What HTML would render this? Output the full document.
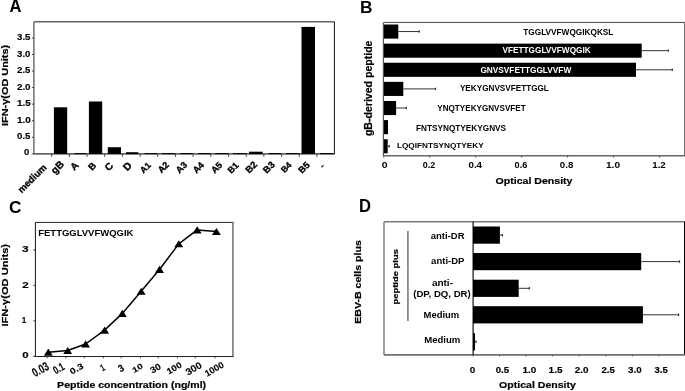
<!DOCTYPE html>
<html><head><meta charset="utf-8"><style>
html,body{margin:0;padding:0;background:#fff;width:685px;height:391px;overflow:hidden}
svg{display:block;will-change:transform}
text{font-family:'Liberation Sans', sans-serif;font-weight:bold}
</style></head><body>
<svg width="685" height="391" viewBox="0 0 685 391">
<rect width="685" height="391" fill="#fff"/>
<line x1="33.40" y1="153.90" x2="334.60" y2="153.90" stroke="#666" stroke-width="1.6"/>
<line x1="33.90" y1="21.80" x2="33.90" y2="153.90" stroke="#777" stroke-width="1.6"/>
<line x1="34.00" y1="21.80" x2="334.60" y2="21.80" stroke="#666" stroke-width="1.4"/>
<line x1="334.40" y1="21.80" x2="334.40" y2="153.90" stroke="#111" stroke-width="1"/>
<rect x="53.90" y="107.30" width="13.30" height="46.60" fill="#000"/>
<rect x="74.30" y="153.10" width="11.70" height="1.00" fill="#000"/>
<rect x="88.90" y="101.50" width="13.30" height="52.40" fill="#000"/>
<rect x="107.80" y="147.20" width="13.20" height="6.70" fill="#000"/>
<rect x="126.00" y="152.20" width="12.30" height="1.90" fill="#000"/>
<rect x="144.80" y="153.10" width="12.50" height="1.00" fill="#000"/>
<rect x="161.90" y="153.10" width="13.40" height="1.00" fill="#000"/>
<rect x="180.30" y="153.10" width="12.30" height="1.00" fill="#000"/>
<rect x="198.10" y="153.10" width="12.70" height="1.00" fill="#000"/>
<rect x="215.10" y="153.10" width="13.60" height="1.00" fill="#000"/>
<rect x="233.10" y="153.10" width="13.60" height="1.00" fill="#000"/>
<rect x="249.10" y="151.70" width="13.50" height="2.40" fill="#000"/>
<rect x="268.80" y="153.10" width="12.30" height="1.00" fill="#000"/>
<rect x="285.90" y="153.10" width="13.60" height="1.00" fill="#000"/>
<rect x="301.50" y="26.90" width="13.50" height="127.00" fill="#000"/>
<rect x="320.00" y="153.10" width="13.50" height="1.00" fill="#000"/>
<line x1="32.00" y1="153.80" x2="34.00" y2="153.80" stroke="#444" stroke-width="1"/>
<line x1="32.00" y1="137.25" x2="34.00" y2="137.25" stroke="#444" stroke-width="1"/>
<line x1="32.00" y1="120.70" x2="34.00" y2="120.70" stroke="#444" stroke-width="1"/>
<line x1="32.00" y1="104.15" x2="34.00" y2="104.15" stroke="#444" stroke-width="1"/>
<line x1="32.00" y1="87.60" x2="34.00" y2="87.60" stroke="#444" stroke-width="1"/>
<line x1="32.00" y1="71.05" x2="34.00" y2="71.05" stroke="#444" stroke-width="1"/>
<line x1="32.00" y1="54.50" x2="34.00" y2="54.50" stroke="#444" stroke-width="1"/>
<line x1="32.00" y1="37.95" x2="34.00" y2="37.95" stroke="#444" stroke-width="1"/>
<line x1="51.68" y1="153.80" x2="51.68" y2="156.80" stroke="#444" stroke-width="1"/>
<line x1="69.36" y1="153.80" x2="69.36" y2="156.80" stroke="#444" stroke-width="1"/>
<line x1="87.05" y1="153.80" x2="87.05" y2="156.80" stroke="#444" stroke-width="1"/>
<line x1="104.73" y1="153.80" x2="104.73" y2="156.80" stroke="#444" stroke-width="1"/>
<line x1="122.41" y1="153.80" x2="122.41" y2="156.80" stroke="#444" stroke-width="1"/>
<line x1="140.09" y1="153.80" x2="140.09" y2="156.80" stroke="#444" stroke-width="1"/>
<line x1="157.78" y1="153.80" x2="157.78" y2="156.80" stroke="#444" stroke-width="1"/>
<line x1="175.46" y1="153.80" x2="175.46" y2="156.80" stroke="#444" stroke-width="1"/>
<line x1="193.14" y1="153.80" x2="193.14" y2="156.80" stroke="#444" stroke-width="1"/>
<line x1="210.82" y1="153.80" x2="210.82" y2="156.80" stroke="#444" stroke-width="1"/>
<line x1="228.51" y1="153.80" x2="228.51" y2="156.80" stroke="#444" stroke-width="1"/>
<line x1="246.19" y1="153.80" x2="246.19" y2="156.80" stroke="#444" stroke-width="1"/>
<line x1="263.87" y1="153.80" x2="263.87" y2="156.80" stroke="#444" stroke-width="1"/>
<line x1="281.55" y1="153.80" x2="281.55" y2="156.80" stroke="#444" stroke-width="1"/>
<line x1="299.24" y1="153.80" x2="299.24" y2="156.80" stroke="#444" stroke-width="1"/>
<line x1="316.92" y1="153.80" x2="316.92" y2="156.80" stroke="#444" stroke-width="1"/>
<rect x="383.70" y="24.50" width="14.60" height="14.10" fill="#000"/>
<line x1="398.30" y1="31.55" x2="419.20" y2="31.55" stroke="#333" stroke-width="1"/>
<line x1="419.20" y1="30.35" x2="419.20" y2="32.75" stroke="#333" stroke-width="1.2"/>
<rect x="383.70" y="43.62" width="258.00" height="14.10" fill="#000"/>
<line x1="641.70" y1="50.67" x2="668.30" y2="50.67" stroke="#333" stroke-width="1"/>
<line x1="668.30" y1="49.47" x2="668.30" y2="51.87" stroke="#333" stroke-width="1.2"/>
<rect x="383.70" y="62.74" width="252.30" height="14.10" fill="#000"/>
<line x1="636.00" y1="69.79" x2="672.30" y2="69.79" stroke="#333" stroke-width="1"/>
<line x1="672.30" y1="68.59" x2="672.30" y2="70.99" stroke="#333" stroke-width="1.2"/>
<rect x="383.70" y="81.86" width="19.60" height="14.10" fill="#000"/>
<line x1="403.30" y1="88.91" x2="435.50" y2="88.91" stroke="#333" stroke-width="1"/>
<line x1="435.50" y1="87.71" x2="435.50" y2="90.11" stroke="#333" stroke-width="1.2"/>
<rect x="383.70" y="100.98" width="12.40" height="14.10" fill="#000"/>
<line x1="396.10" y1="108.03" x2="406.30" y2="108.03" stroke="#333" stroke-width="1"/>
<line x1="406.30" y1="106.83" x2="406.30" y2="109.23" stroke="#333" stroke-width="1.2"/>
<rect x="383.70" y="120.10" width="4.30" height="14.10" fill="#000"/>
<rect x="383.70" y="139.22" width="4.00" height="14.10" fill="#000"/>
<line x1="387.70" y1="146.27" x2="389.20" y2="146.27" stroke="#333" stroke-width="1"/>
<line x1="389.20" y1="145.07" x2="389.20" y2="147.47" stroke="#333" stroke-width="1.2"/>
<line x1="383.70" y1="22.40" x2="685.00" y2="22.40" stroke="#444" stroke-width="1"/>
<line x1="684.50" y1="22.40" x2="684.50" y2="155.80" stroke="#777" stroke-width="1"/>
<line x1="383.40" y1="22.40" x2="383.40" y2="155.80" stroke="#555" stroke-width="1.2"/>
<line x1="383.40" y1="155.80" x2="685.00" y2="155.80" stroke="#666" stroke-width="1.5"/>
<line x1="383.70" y1="155.60" x2="383.70" y2="157.60" stroke="#555" stroke-width="1"/>
<line x1="429.68" y1="155.60" x2="429.68" y2="157.60" stroke="#555" stroke-width="1"/>
<line x1="475.66" y1="155.60" x2="475.66" y2="157.60" stroke="#555" stroke-width="1"/>
<line x1="521.64" y1="155.60" x2="521.64" y2="157.60" stroke="#555" stroke-width="1"/>
<line x1="567.62" y1="155.60" x2="567.62" y2="157.60" stroke="#555" stroke-width="1"/>
<line x1="613.60" y1="155.60" x2="613.60" y2="157.60" stroke="#555" stroke-width="1"/>
<line x1="659.58" y1="155.60" x2="659.58" y2="157.60" stroke="#555" stroke-width="1"/>
<line x1="35.30" y1="222.40" x2="233.50" y2="222.40" stroke="#222" stroke-width="1"/>
<line x1="232.90" y1="222.40" x2="232.90" y2="356.50" stroke="#888" stroke-width="1.8"/>
<line x1="35.40" y1="222.40" x2="35.40" y2="356.50" stroke="#111" stroke-width="1"/>
<line x1="34.00" y1="356.50" x2="233.50" y2="356.50" stroke="#222" stroke-width="1"/>
<line x1="33.30" y1="356.30" x2="35.30" y2="356.30" stroke="#444" stroke-width="1"/>
<line x1="33.30" y1="320.87" x2="35.30" y2="320.87" stroke="#444" stroke-width="1"/>
<line x1="33.30" y1="285.44" x2="35.30" y2="285.44" stroke="#444" stroke-width="1"/>
<line x1="33.30" y1="250.01" x2="35.30" y2="250.01" stroke="#444" stroke-width="1"/>
<polyline points="48.30,352.20 67.70,350.55 85.60,344.00 104.60,330.15 122.30,313.40 141.20,291.25 159.50,269.45 178.80,243.85 197.20,229.95 216.40,231.50" fill="none" stroke="#000" stroke-width="1.5" stroke-linejoin="round"/>
<polygon points="48.30,348.60 52.75,355.70 43.85,355.70" fill="#000"/>
<polygon points="67.70,346.95 72.15,354.05 63.25,354.05" fill="#000"/>
<polygon points="85.60,340.40 90.05,347.50 81.15,347.50" fill="#000"/>
<polygon points="104.60,326.55 109.05,333.65 100.15,333.65" fill="#000"/>
<polygon points="122.30,309.80 126.75,316.90 117.85,316.90" fill="#000"/>
<polygon points="141.20,287.65 145.65,294.75 136.75,294.75" fill="#000"/>
<polygon points="159.50,265.85 163.95,272.95 155.05,272.95" fill="#000"/>
<polygon points="178.80,240.25 183.25,247.35 174.35,247.35" fill="#000"/>
<polygon points="197.20,226.35 201.65,233.45 192.75,233.45" fill="#000"/>
<polygon points="216.40,227.90 220.85,235.00 211.95,235.00" fill="#000"/>
<line x1="47.10" y1="356.30" x2="47.10" y2="358.30" stroke="#444" stroke-width="1"/>
<line x1="65.90" y1="356.30" x2="65.90" y2="358.30" stroke="#444" stroke-width="1"/>
<line x1="84.30" y1="356.30" x2="84.30" y2="358.30" stroke="#444" stroke-width="1"/>
<line x1="103.30" y1="356.30" x2="103.30" y2="358.30" stroke="#444" stroke-width="1"/>
<line x1="121.20" y1="356.30" x2="121.20" y2="358.30" stroke="#444" stroke-width="1"/>
<line x1="140.60" y1="356.30" x2="140.60" y2="358.30" stroke="#444" stroke-width="1"/>
<line x1="158.30" y1="356.30" x2="158.30" y2="358.30" stroke="#444" stroke-width="1"/>
<line x1="177.50" y1="356.30" x2="177.50" y2="358.30" stroke="#444" stroke-width="1"/>
<line x1="195.30" y1="356.30" x2="195.30" y2="358.30" stroke="#444" stroke-width="1"/>
<line x1="215.00" y1="356.30" x2="215.00" y2="358.30" stroke="#444" stroke-width="1"/>
<line x1="384.00" y1="221.80" x2="685.00" y2="221.80" stroke="#777" stroke-width="1.5"/>
<line x1="684.50" y1="221.80" x2="684.50" y2="354.90" stroke="#000" stroke-width="1"/>
<line x1="384.00" y1="221.80" x2="384.00" y2="354.90" stroke="#888" stroke-width="1.6"/>
<line x1="384.00" y1="354.90" x2="685.00" y2="354.90" stroke="#707070" stroke-width="1.6"/>
<line x1="473.10" y1="221.80" x2="473.10" y2="354.90" stroke="#111" stroke-width="1.2"/>
<line x1="407.90" y1="230.90" x2="407.90" y2="321.00" stroke="#888" stroke-width="1.8"/>
<rect x="473.00" y="226.50" width="26.90" height="17.20" fill="#000"/>
<line x1="499.90" y1="235.10" x2="502.40" y2="235.10" stroke="#333" stroke-width="1"/>
<line x1="502.40" y1="233.90" x2="502.40" y2="236.30" stroke="#333" stroke-width="1.2"/>
<rect x="473.00" y="253.00" width="168.20" height="17.20" fill="#000"/>
<line x1="641.20" y1="261.60" x2="679.50" y2="261.60" stroke="#333" stroke-width="1"/>
<line x1="679.50" y1="260.40" x2="679.50" y2="262.80" stroke="#333" stroke-width="1.2"/>
<rect x="473.00" y="279.70" width="45.70" height="17.20" fill="#000"/>
<line x1="518.70" y1="288.30" x2="529.30" y2="288.30" stroke="#333" stroke-width="1"/>
<line x1="529.30" y1="287.10" x2="529.30" y2="289.50" stroke="#333" stroke-width="1.2"/>
<rect x="473.00" y="306.20" width="169.90" height="17.20" fill="#000"/>
<line x1="642.90" y1="314.80" x2="678.60" y2="314.80" stroke="#333" stroke-width="1"/>
<line x1="678.60" y1="313.60" x2="678.60" y2="316.00" stroke="#333" stroke-width="1.2"/>
<rect x="473.00" y="333.20" width="2.00" height="17.20" fill="#000"/>
<line x1="475.00" y1="341.80" x2="476.00" y2="341.80" stroke="#333" stroke-width="1"/>
<line x1="476.00" y1="340.60" x2="476.00" y2="343.00" stroke="#333" stroke-width="1.2"/>
<line x1="473.00" y1="354.60" x2="473.00" y2="356.60" stroke="#666" stroke-width="1"/>
<line x1="499.55" y1="354.60" x2="499.55" y2="356.60" stroke="#666" stroke-width="1"/>
<line x1="526.10" y1="354.60" x2="526.10" y2="356.60" stroke="#666" stroke-width="1"/>
<line x1="552.65" y1="354.60" x2="552.65" y2="356.60" stroke="#666" stroke-width="1"/>
<line x1="579.20" y1="354.60" x2="579.20" y2="356.60" stroke="#666" stroke-width="1"/>
<line x1="605.75" y1="354.60" x2="605.75" y2="356.60" stroke="#666" stroke-width="1"/>
<line x1="632.30" y1="354.60" x2="632.30" y2="356.60" stroke="#666" stroke-width="1"/>
<line x1="658.85" y1="354.60" x2="658.85" y2="356.60" stroke="#666" stroke-width="1"/>
<text x="9.60" y="12.00" font-size="17.69" fill="#000" textLength="11.96" lengthAdjust="spacingAndGlyphs">A</text>
<text x="359.95" y="13.00" font-size="17.22" fill="#000" textLength="12.51" lengthAdjust="spacingAndGlyphs">B</text>
<text x="9.05" y="213.00" font-size="16.45" fill="#000" textLength="12.47" lengthAdjust="spacingAndGlyphs">C</text>
<text x="359.06" y="212.00" font-size="17.74" fill="#000" textLength="11.97" lengthAdjust="spacingAndGlyphs">D</text>
<text x="24.07" y="155.00" font-size="8.21" fill="#000" textLength="5.23" lengthAdjust="spacingAndGlyphs" stroke="#000" stroke-width="0.15">0</text>
<text x="17.12" y="139.00" font-size="8.91" fill="#000" textLength="13.35" lengthAdjust="spacingAndGlyphs" stroke="#000" stroke-width="0.15">0.5</text>
<text x="16.90" y="123.00" font-size="8.91" fill="#000" textLength="13.77" lengthAdjust="spacingAndGlyphs" stroke="#000" stroke-width="0.15">1.0</text>
<text x="16.90" y="106.00" font-size="8.91" fill="#000" textLength="13.75" lengthAdjust="spacingAndGlyphs" stroke="#000" stroke-width="0.15">1.5</text>
<text x="17.01" y="90.00" font-size="8.91" fill="#000" textLength="13.54" lengthAdjust="spacingAndGlyphs" stroke="#000" stroke-width="0.15">2.0</text>
<text x="17.12" y="73.00" font-size="8.91" fill="#000" textLength="13.37" lengthAdjust="spacingAndGlyphs" stroke="#000" stroke-width="0.15">2.5</text>
<text x="17.12" y="57.00" font-size="8.91" fill="#000" textLength="13.35" lengthAdjust="spacingAndGlyphs" stroke="#000" stroke-width="0.15">3.0</text>
<text x="17.12" y="40.00" font-size="8.91" fill="#000" textLength="13.33" lengthAdjust="spacingAndGlyphs" stroke="#000" stroke-width="0.15">3.5</text>
<text transform="translate(47.11,168.07) rotate(-45)" font-size="9.40" text-anchor="end" fill="#000" stroke="#000" stroke-width="0.35">medium</text>
<text transform="translate(64.66,164.92) rotate(-45)" font-size="10.13" text-anchor="end" fill="#000" stroke="#000" stroke-width="0.35">gB</text>
<text transform="translate(79.40,166.05) rotate(-45)" font-size="9.87" text-anchor="end" fill="#000" stroke="#000" stroke-width="0.35">A</text>
<text transform="translate(96.88,166.09) rotate(-45)" font-size="9.42" text-anchor="end" fill="#000" stroke="#000" stroke-width="0.35">B</text>
<text transform="translate(113.91,166.45) rotate(-45)" font-size="9.91" text-anchor="end" fill="#000" stroke="#000" stroke-width="0.35">C</text>
<text transform="translate(132.51,166.18) rotate(-45)" font-size="10.39" text-anchor="end" fill="#000" stroke="#000" stroke-width="0.35">D</text>
<text transform="translate(151.41,165.75) rotate(-45)" font-size="8.72" text-anchor="end" fill="#000" stroke="#000" stroke-width="0.35">A1</text>
<text transform="translate(169.52,165.48) rotate(-45)" font-size="9.01" text-anchor="end" fill="#000" stroke="#000" stroke-width="0.35">A2</text>
<text transform="translate(187.85,165.46) rotate(-45)" font-size="9.17" text-anchor="end" fill="#000" stroke="#000" stroke-width="0.35">A3</text>
<text transform="translate(204.61,165.71) rotate(-45)" font-size="8.99" text-anchor="end" fill="#000" stroke="#000" stroke-width="0.35">A4</text>
<text transform="translate(222.90,165.62) rotate(-45)" font-size="9.02" text-anchor="end" fill="#000" stroke="#000" stroke-width="0.35">A5</text>
<text transform="translate(239.19,165.98) rotate(-45)" font-size="8.90" text-anchor="end" fill="#000" stroke="#000" stroke-width="0.35">B1</text>
<text transform="translate(257.70,165.21) rotate(-45)" font-size="9.43" text-anchor="end" fill="#000" stroke="#000" stroke-width="0.35">B2</text>
<text transform="translate(275.41,165.39) rotate(-45)" font-size="9.46" text-anchor="end" fill="#000" stroke="#000" stroke-width="0.35">B3</text>
<text transform="translate(292.15,165.55) rotate(-45)" font-size="8.53" text-anchor="end" fill="#000" stroke="#000" stroke-width="0.35">B4</text>
<text transform="translate(310.44,165.55) rotate(-45)" font-size="9.23" text-anchor="end" fill="#000" stroke="#000" stroke-width="0.35">B5</text>
<text transform="translate(325.04,166.85) rotate(-45)" font-size="8.40" text-anchor="end" fill="#000" stroke="#000" stroke-width="0.35">-</text>
<text transform="translate(8.17,125.93) rotate(-90)" font-size="9.57" fill="#000" textLength="81.12" lengthAdjust="spacingAndGlyphs" stroke="#000" stroke-width="0.2">IFN-γ(OD Units)</text>
<text x="381.70" y="168.00" font-size="9.20" fill="#000" textLength="5.80" lengthAdjust="spacingAndGlyphs">0</text>
<text x="422.66" y="168.00" font-size="9.20" fill="#000" textLength="12.50" lengthAdjust="spacingAndGlyphs">0.2</text>
<text x="468.46" y="168.00" font-size="9.20" fill="#000" textLength="13.58" lengthAdjust="spacingAndGlyphs">0.4</text>
<text x="514.58" y="168.00" font-size="9.20" fill="#000" textLength="12.78" lengthAdjust="spacingAndGlyphs">0.6</text>
<text x="559.86" y="168.00" font-size="9.20" fill="#000" textLength="13.52" lengthAdjust="spacingAndGlyphs">0.8</text>
<text x="605.99" y="168.00" font-size="9.20" fill="#000" textLength="14.01" lengthAdjust="spacingAndGlyphs">1.0</text>
<text x="652.28" y="168.00" font-size="9.20" fill="#000" textLength="13.47" lengthAdjust="spacingAndGlyphs">1.2</text>
<text x="495.52" y="184.00" font-size="9.90" fill="#000" textLength="76.99" lengthAdjust="spacingAndGlyphs" stroke="#000" stroke-width="0.2">Optical Density</text>
<text x="523.28" y="35.00" font-size="8.36" fill="#000" textLength="90.15" lengthAdjust="spacingAndGlyphs">TGGLVVFWQGIKQKSL</text>
<text x="502.50" y="53.00" font-size="8.79" fill="#fff" textLength="88.20" lengthAdjust="spacingAndGlyphs">VFETTGGLVVFWQGIK</text>
<text x="480.42" y="73.00" font-size="8.88" fill="#fff" textLength="90.78" lengthAdjust="spacingAndGlyphs">GNVSVFETTGGLVVFW</text>
<text x="459.90" y="91.00" font-size="8.41" fill="#000" textLength="88.96" lengthAdjust="spacingAndGlyphs">YEKYGNVSVFETTGGL</text>
<text x="437.28" y="111.00" font-size="8.37" fill="#000" textLength="88.44" lengthAdjust="spacingAndGlyphs">YNQTYEKYGNVSVFET</text>
<text x="416.09" y="131.00" font-size="8.36" fill="#000" textLength="89.97" lengthAdjust="spacingAndGlyphs">FNTSYNQTYEKYGNVS</text>
<text x="396.93" y="148.00" font-size="7.11" fill="#000" textLength="86.85" lengthAdjust="spacingAndGlyphs">LQQIFNTSYNQTYEKY</text>
<text transform="translate(372.03,136.07) rotate(-90)" font-size="10.01" fill="#000" textLength="95.53" lengthAdjust="spacingAndGlyphs" stroke="#000" stroke-width="0.2">gB-derived peptide</text>
<text x="22.34" y="358.00" font-size="8.26" fill="#000" textLength="6.39" lengthAdjust="spacingAndGlyphs" stroke="#000" stroke-width="0.15">0</text>
<text x="21.87" y="323.00" font-size="9.45" fill="#000" textLength="4.52" lengthAdjust="spacingAndGlyphs" stroke="#000" stroke-width="0.15">1</text>
<text x="22.31" y="288.00" font-size="8.81" fill="#000" textLength="6.47" lengthAdjust="spacingAndGlyphs" stroke="#000" stroke-width="0.15">2</text>
<text x="22.07" y="252.00" font-size="9.50" fill="#000" textLength="6.61" lengthAdjust="spacingAndGlyphs" stroke="#000" stroke-width="0.15">3</text>
<text transform="translate(42.52,373.04) rotate(-30)" font-size="12.46" text-anchor="middle" fill="#000" textLength="17.18" lengthAdjust="spacingAndGlyphs" stroke="#000" stroke-width="0.12">0.03</text>
<text transform="translate(60.58,371.71) rotate(-30)" font-size="11.24" text-anchor="middle" fill="#000" textLength="11.36" lengthAdjust="spacingAndGlyphs" stroke="#000" stroke-width="0.12">0.1</text>
<text transform="translate(77.97,371.28) rotate(-30)" font-size="8.43" text-anchor="middle" fill="#000" textLength="14.14" lengthAdjust="spacingAndGlyphs" stroke="#000" stroke-width="0.12">0.3</text>
<text transform="translate(104.12,370.44) rotate(-30)" font-size="9.46" text-anchor="middle" fill="#000" textLength="3.81" lengthAdjust="spacingAndGlyphs" stroke="#000" stroke-width="0.12">1</text>
<text transform="translate(122.82,371.25) rotate(-30)" font-size="10.16" text-anchor="middle" fill="#000" textLength="5.13" lengthAdjust="spacingAndGlyphs" stroke="#000" stroke-width="0.12">3</text>
<text transform="translate(138.85,370.37) rotate(-30)" font-size="7.64" text-anchor="middle" fill="#000" textLength="11.08" lengthAdjust="spacingAndGlyphs" stroke="#000" stroke-width="0.12">10</text>
<text transform="translate(157.07,371.05) rotate(-30)" font-size="9.01" text-anchor="middle" fill="#000" textLength="11.04" lengthAdjust="spacingAndGlyphs" stroke="#000" stroke-width="0.12">30</text>
<text transform="translate(175.59,370.70) rotate(-30)" font-size="8.61" text-anchor="middle" fill="#000" textLength="15.93" lengthAdjust="spacingAndGlyphs" stroke="#000" stroke-width="0.12">100</text>
<text transform="translate(195.31,371.41) rotate(-30)" font-size="9.52" text-anchor="middle" fill="#000" textLength="16.97" lengthAdjust="spacingAndGlyphs" stroke="#000" stroke-width="0.12">300</text>
<text transform="translate(215.82,371.80) rotate(-30)" font-size="8.98" text-anchor="middle" fill="#000" textLength="20.57" lengthAdjust="spacingAndGlyphs" stroke="#000" stroke-width="0.12">1000</text>
<text x="38.28" y="236.00" font-size="9.52" fill="#000" textLength="95.10" lengthAdjust="spacingAndGlyphs">FETTGGLVVFWQGIK</text>
<text x="57.14" y="388.00" font-size="9.00" fill="#000" textLength="148.98" lengthAdjust="spacingAndGlyphs" stroke="#000" stroke-width="0.2">Peptide concentration (ng/ml)</text>
<text transform="translate(7.92,326.50) rotate(-90)" font-size="9.61" fill="#000" textLength="82.56" lengthAdjust="spacingAndGlyphs" stroke="#000" stroke-width="0.2">IFN-γ(OD Units)</text>
<text x="469.65" y="373.00" font-size="8.95" fill="#000" textLength="5.49" lengthAdjust="spacingAndGlyphs" stroke="#000" stroke-width="0.15">0</text>
<text x="495.68" y="373.00" font-size="8.95" fill="#000" textLength="13.56" lengthAdjust="spacingAndGlyphs" stroke="#000" stroke-width="0.15">0.5</text>
<text x="522.50" y="373.00" font-size="8.95" fill="#000" textLength="13.66" lengthAdjust="spacingAndGlyphs" stroke="#000" stroke-width="0.15">1.0</text>
<text x="548.64" y="373.00" font-size="8.95" fill="#000" textLength="13.97" lengthAdjust="spacingAndGlyphs" stroke="#000" stroke-width="0.15">1.5</text>
<text x="574.79" y="373.00" font-size="8.95" fill="#000" textLength="13.75" lengthAdjust="spacingAndGlyphs" stroke="#000" stroke-width="0.15">2.0</text>
<text x="601.51" y="373.00" font-size="8.95" fill="#000" textLength="13.36" lengthAdjust="spacingAndGlyphs" stroke="#000" stroke-width="0.15">2.5</text>
<text x="628.09" y="373.00" font-size="8.95" fill="#000" textLength="13.54" lengthAdjust="spacingAndGlyphs" stroke="#000" stroke-width="0.15">3.0</text>
<text x="654.50" y="373.00" font-size="8.95" fill="#000" textLength="13.18" lengthAdjust="spacingAndGlyphs" stroke="#000" stroke-width="0.15">3.5</text>
<text x="499.11" y="388.00" font-size="9.74" fill="#000" textLength="76.77" lengthAdjust="spacingAndGlyphs" stroke="#000" stroke-width="0.2">Optical Density</text>
<text x="430.82" y="239.00" font-size="8.46" fill="#000" textLength="33.69" lengthAdjust="spacingAndGlyphs">anti-DR</text>
<text x="431.14" y="264.00" font-size="8.46" fill="#000" textLength="33.35" lengthAdjust="spacingAndGlyphs">anti-DP</text>
<text x="431.92" y="286.00" font-size="8.18" fill="#000" textLength="21.06" lengthAdjust="spacingAndGlyphs">anti-</text>
<text x="413.23" y="297.00" font-size="8.75" fill="#000" textLength="57.54" lengthAdjust="spacingAndGlyphs">(DP, DQ, DR)</text>
<text x="423.62" y="318.00" font-size="8.46" fill="#000" textLength="35.65" lengthAdjust="spacingAndGlyphs">Medium</text>
<text x="424.16" y="343.00" font-size="8.46" fill="#000" textLength="36.15" lengthAdjust="spacingAndGlyphs">Medium</text>
<text transform="translate(398.11,304.45) rotate(-90)" font-size="6.87" fill="#000" textLength="55.32" lengthAdjust="spacingAndGlyphs" stroke="#000" stroke-width="0.2">peptide plus</text>
<text transform="translate(360.94,323.75) rotate(-90)" font-size="9.00" fill="#000" textLength="83.52" lengthAdjust="spacingAndGlyphs" stroke="#000" stroke-width="0.2">EBV-B cells plus</text>
</svg>
</body></html>
